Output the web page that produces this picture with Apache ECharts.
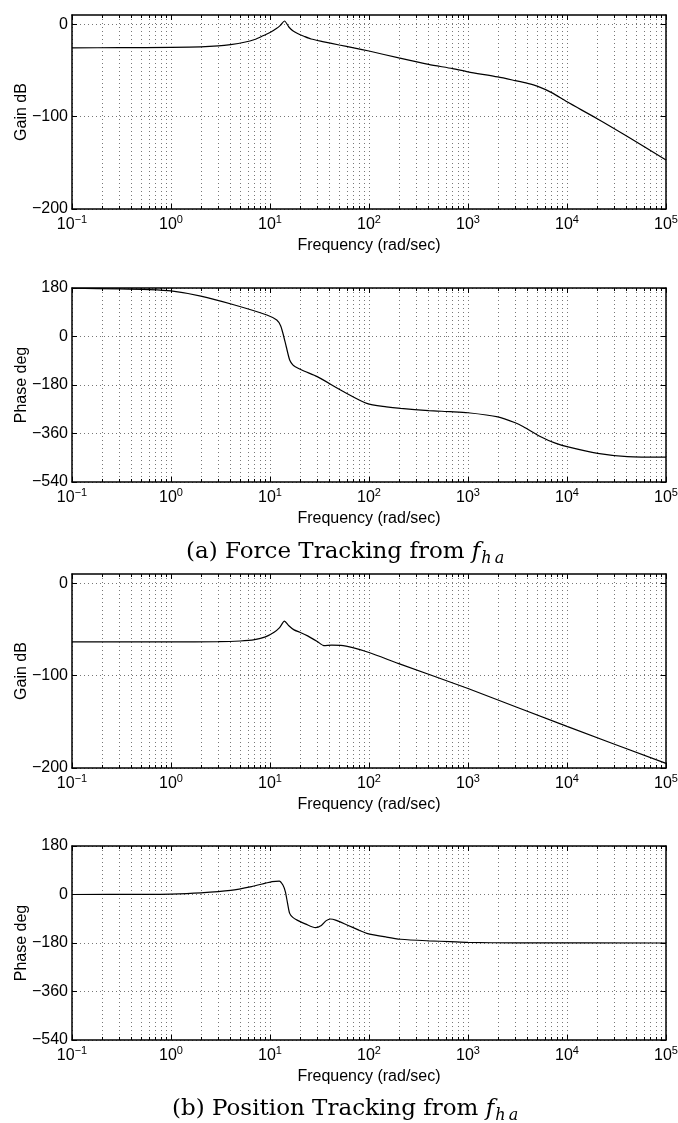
<!DOCTYPE html>
<html>
<head>
<meta charset="utf-8">
<script src="https://cdn.jsdelivr.net/npm/echarts@6/dist/echarts.min.js"></script>
<style>
  html, body { margin: 0; padding: 0; background: #fff; }
  #chart { width: 678px; height: 1123px; }
</style>
</head>
<body>
<div id="chart"></div>
<script>
// Bode plots, frequency in rad/sec
const forceGainFreq = [0.1, 0.3, 1, 2, 3, 4, 5.5, 7, 8.5, 10, 11.5, 12.8, 14, 15.5, 17, 19, 22, 26, 35, 50, 70, 100, 200, 400, 700, 1000, 2000, 3000, 4000, 5000, 7000, 10000, 20000, 40000, 100000];
const forceGainDb = [-25.5, -25.4, -25, -24.5, -23.5, -22, -19.5, -16.5, -12.5, -9, -5, -1, 3.5, -3, -7, -10, -13, -16, -19, -22.5, -25.5, -29, -36.5, -43.5, -48, -51.5, -57, -61, -64, -67, -74, -84, -102, -121, -147];

const forcePhaseFreq = [0.1, 0.3, 0.6, 1, 2, 4.3, 9.3, 11.7, 12.8, 13.5, 14.6, 15.8, 17, 18, 22, 30, 55.6, 95, 150, 209, 400, 660, 1000, 2000, 3000, 3630, 5430, 7500, 10000, 20400, 40700, 100000];
const forcePhaseDeg = [179, 177, 174, 169, 150, 118, 80, 61, 40, 12, -38, -87, -105, -112, -128, -149, -205, -248, -261, -267, -275, -279, -283, -298, -320, -335, -372, -395, -409, -434, -446, -448];

const posGainFreq = [0.1, 1, 3, 5, 7, 9, 11, 12.5, 14, 15.5, 17.5, 20, 24, 30, 35, 42, 52, 70, 100, 200, 1000, 10000, 100000];
const posGainDb = [-63.5, -63.5, -63.3, -62.5, -61, -58, -53, -48, -41, -46, -50.5, -53, -57, -63, -67.5, -67, -67.2, -70, -75, -87, -114, -155, -195];

const posPhaseFreq = [0.1, 0.5, 1, 2, 4, 6.5, 9, 10.5, 12.4, 13.5, 14.3, 15, 15.8, 17, 18.8, 23, 28.8, 33, 37, 40.7, 46, 60, 80, 95, 150, 209, 400, 660, 1000, 3000, 100000];
const posPhaseDeg = [0, 0.5, 1.5, 6, 15, 29, 42, 48, 50, 35, 10, -30, -70, -85, -95, -110, -123, -115, -97, -91, -95, -113, -133, -144, -158, -166, -172, -175, -178, -179.5, -180];

const decadeTicks = [0.1, 1, 10, 100, 1000, 10000, 100000];
const minorTicks = decadeTicks.slice(0, -1).flatMap(d => [2, 3, 4, 5, 6, 7, 8, 9].map(k => k * d));
const gainTicks = [-200, -100, 0];
const phaseTicks = [-540, -360, -180, 0, 180];

const panels = [
  { top: 15, label: 'Gain dB', freq: forceGainFreq, vals: forceGainDb, min: -200, max: 10, ticks: gainTicks },
  { top: 288, label: 'Phase deg', freq: forcePhaseFreq, vals: forcePhaseDeg, min: -540, max: 180, ticks: phaseTicks },
  { top: 574, label: 'Gain dB', freq: posGainFreq, vals: posGainDb, min: -200, max: 10, ticks: gainTicks },
  { top: 846, label: 'Phase deg', freq: posPhaseFreq, vals: posPhaseDeg, min: -540, max: 180, ticks: phaseTicks },
];

const font = '"Liberation Sans", Arial, Helvetica, sans-serif';
const serif = '"DejaVu Serif", "Liberation Serif", serif';
const minus = s => String(s).replace('-', '\u2212');
const frame = { show: true, onZero: false, lineStyle: { color: '#000', width: 1.5 } };
const dots = { show: true, lineStyle: { color: '#777', width: 1, type: [1, 3] } };

const grids = [], xAxes = [], yAxes = [], series = [];

panels.forEach((p, i) => {
  grids.push({ left: 72, right: 12, top: p.top, height: 194, outerBoundsMode: 'none', containLabel: false });
  const xBase = { type: 'log', logBase: 10, min: 0.1, max: 100000, gridIndex: i, axisLabel: { show: false }, splitLine: { show: false } };
  const xi = xAxes.length;
  // bottom: all ticks + dotted grid
  xAxes.push({ ...xBase, position: 'bottom', axisLine: frame,
    axisTick: { inside: true, length: 3, customValues: decadeTicks.concat(minorTicks), lineStyle: { color: '#000' } },
    splitLine: dots });
  // bottom: decade ticks + labels
  xAxes.push({ ...xBase, position: 'bottom', axisLine: { show: false, onZero: false },
    axisTick: { inside: true, length: 5, customValues: decadeTicks, lineStyle: { color: '#000' } },
    axisLabel: {
      show: true, customValues: decadeTicks, margin: 7,
      formatter: v => '{b|10}{e|' + minus(Math.round(Math.log10(v))) + '}',
      rich: {
        b: { fontFamily: font, fontSize: 16, color: '#000', lineHeight: 17, verticalAlign: 'bottom' },
        e: { fontFamily: font, fontSize: 11, color: '#000', lineHeight: 12, verticalAlign: 'bottom', padding: [0, 0, 8, 0] },
      },
    },
    name: 'Frequency (rad/sec)', nameLocation: 'middle', nameGap: 29, nameMoveOverlap: false,
    nameTextStyle: { fontFamily: font, fontSize: 16, color: '#000' } });
  // top mirror
  xAxes.push({ ...xBase, position: 'top', axisLine: frame,
    axisTick: { inside: true, length: 3, customValues: decadeTicks.concat(minorTicks), lineStyle: { color: '#000' } } });
  xAxes.push({ ...xBase, position: 'top', axisLine: { show: false, onZero: false },
    axisTick: { inside: true, length: 5, customValues: decadeTicks, lineStyle: { color: '#000' } } });

  const yi = yAxes.length;
  yAxes.push({ type: 'value', gridIndex: i, position: 'left', min: p.min, max: p.max, axisLine: frame,
    axisTick: { inside: true, length: 5, customValues: p.ticks, lineStyle: { color: '#000' } },
    axisLabel: { customValues: p.ticks, margin: 4, fontFamily: font, fontSize: 16, color: '#000', formatter: minus },
    splitLine: dots,
    name: p.label, nameLocation: 'middle', nameGap: 42, nameMoveOverlap: false,
    nameTextStyle: { fontFamily: font, fontSize: 16, color: '#000' } });
  yAxes.push({ type: 'value', gridIndex: i, position: 'right', min: p.min, max: p.max, axisLine: frame,
    axisTick: { inside: true, length: 5, customValues: p.ticks, lineStyle: { color: '#000' } },
    axisLabel: { show: false }, splitLine: { show: false } });

  series.push({
    type: 'line', xAxisIndex: xi, yAxisIndex: yi,
    data: p.freq.map((f, k) => [f, p.vals[k]]),
    smooth: 0.25, showSymbol: false,
    lineStyle: { color: '#000', width: 1.2 }, animation: false,
  });
});

const captionRich = {
  n: { fontFamily: serif, fontSize: 23, fontWeight: 'normal', color: '#000', verticalAlign: 'top', lineHeight: 26 },
  i: { fontFamily: serif, fontSize: 23, fontWeight: 'normal', fontStyle: 'italic', color: '#000', verticalAlign: 'top', lineHeight: 26 },
  s: { fontFamily: serif, fontSize: 16, fontWeight: 'normal', fontStyle: 'italic', color: '#000', verticalAlign: 'top', lineHeight: 18, padding: [10, 0, 0, 1] },
};

const chart = echarts.init(document.getElementById('chart'), null, { renderer: 'canvas' });
chart.setOption({
  animation: false,
  backgroundColor: '#fff',
  title: [
    { text: '{n|(a) Force Tracking from }{i|f}{s|h\u2009a}', left: 186, top: 541, padding: 0, textStyle: { fontWeight: 'normal', rich: captionRich } },
    { text: '{n|(b) Position Tracking from }{i|f}{s|h\u2009a}', left: 172, top: 1098, padding: 0, textStyle: { fontWeight: 'normal', rich: captionRich } },
  ],
  grid: grids,
  xAxis: xAxes,
  yAxis: yAxes,
  series: series,
});
</script>
</body>
</html>
